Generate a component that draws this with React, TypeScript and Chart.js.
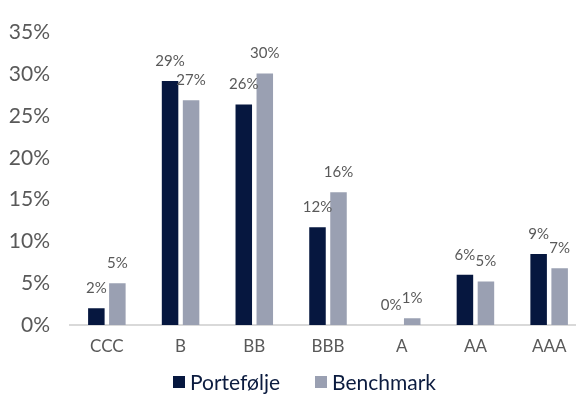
import React, { useEffect, useRef } from "react";
import { Chart, registerables } from "chart.js";

Chart.register(...registerables);

const categories = ["CCC", "B", "BB", "BBB", "A", "AA", "AAA"];
const portefolje = [2.0, 29.2, 26.4, 11.7, 0.0, 6.0, 8.5];
const benchmark = [5.0, 26.9, 30.1, 15.9, 0.8, 5.2, 6.8];
const yTicks = [0, 5, 10, 15, 20, 25, 30, 35];

const FONT = "Lato, 'Open Sans', sans-serif";

const labelPlugin = {
  id: "barLabels",
  afterDatasetsDraw(chart: any) {
    const ctx = chart.ctx;
    ctx.save();
    ctx.font = `15px ${FONT}`;
    ctx.fillStyle = "#595959";
    ctx.textAlign = "center";
    ctx.textBaseline = "middle";
    chart.data.datasets.forEach((ds: any, i: number) => {
      const meta = chart.getDatasetMeta(i);
      meta.data.forEach((bar: any, j: number) => {
        const v = ds.data[j];
        ctx.fillText(`${Math.round(v)}%`, bar.x, bar.y - 20);
      });
    });
    ctx.restore();
  },
};

const legendPlugin = {
  id: "customLegend",
  afterDraw(chart: any) {
    const ctx = chart.ctx;
    ctx.save();
    ctx.font = `21px ${FONT}`;
    ctx.textBaseline = "middle";
    ctx.textAlign = "left";
    const starts = [173, 315];
    const y = 382;
    chart.data.datasets.forEach((ds: any, i: number) => {
      const x = starts[i];
      ctx.fillStyle = ds.backgroundColor;
      ctx.fillRect(x, y - 6, 12, 12);
      ctx.fillStyle = "#0b1b3f";
      ctx.fillText(ds.label, x + 17, y + 1);
    });
    ctx.restore();
  },
};

export default function App() {
  const ref = useRef<HTMLCanvasElement>(null);
  useEffect(() => {
    document.body.style.margin = "0";
    const chart = new Chart(ref.current!, {
      type: "bar",
      data: {
        labels: categories,
        datasets: [
          {
            label: "Portefølje",
            data: portefolje,
            backgroundColor: "#06173f",
            barPercentage: 0.786,
            categoryPercentage: 0.57,
          },
          {
            label: "Benchmark",
            data: benchmark,
            backgroundColor: "#9aa0b2",
            barPercentage: 0.786,
            categoryPercentage: 0.57,
          },
        ],
      },
      options: {
        animation: false,
        responsive: false,
        maintainAspectRatio: false,
        layout: { padding: { top: 24, right: 0, left: 8, bottom: 0 } },
        plugins: {
          tooltip: { enabled: false },
          legend: { display: false },
        },
        scales: {
          x: {
            afterFit: (axis: any) => {
              axis.height = 81;
            },
            grid: { display: false, drawTicks: false },
            border: { display: true, color: "#d9d9d9", width: 2 },
            ticks: {
              font: { family: FONT, size: 17 },
              color: "#595959",
              padding: 11,
            },
          },
          y: {
            min: 0,
            max: 35,
            afterFit: (axis: any) => {
              axis.width = 62;
            },
            afterBuildTicks: (axis: any) => {
              axis.ticks = yTicks.map((v) => ({ value: v }));
            },
            grid: { display: false, drawTicks: false },
            border: { display: false },
            ticks: {
              font: { family: FONT, size: 21 },
              color: "#595959",
              padding: 20,
              callback: (v: any) => `${v}%`,
            },
          },
        },
      },
      plugins: [labelPlugin, legendPlugin],
    });
    return () => chart.destroy();
  }, []);
  return (
    <div style={{ width: 576, height: 406, overflow: "hidden" }}>
      <canvas ref={ref} width={586} height={406} style={{ display: "block" }} />
    </div>
  );
}
